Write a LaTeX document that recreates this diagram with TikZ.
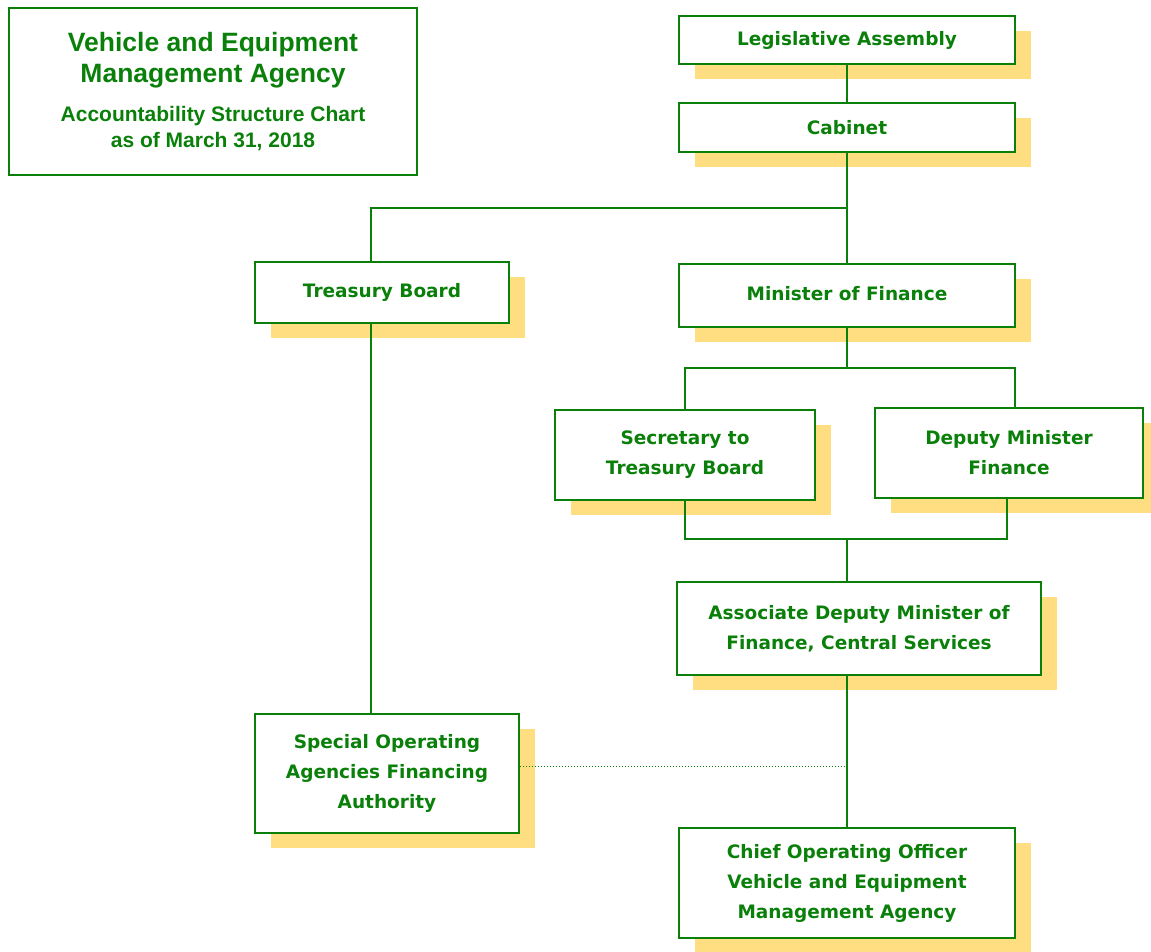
\documentclass[tikz,border=0pt]{standalone}
\usepackage{fontspec}
\setmainfont{Liberation Sans}
\newfontfamily\boxfont{DejaVu Sans}
\usetikzlibrary{shadows}
\definecolor{ogreen}{RGB}{10,128,10}
\definecolor{shadowcol}{RGB}{255,222,130}
\tikzset{
  orgbox/.style={draw=ogreen, line width=2.4pt, fill=white, align=center,
    text=ogreen, font=\boxfont\fontsize{18.5}{30}\selectfont\bfseries, inner sep=0pt,
    drop shadow={shadow xshift=16pt, shadow yshift=-15pt, fill=shadowcol, opacity=1, draw=none}},
  titlebox/.style={draw=ogreen, line width=2pt, fill=white, align=center, text=ogreen, inner sep=0pt, font=\bfseries},
  conn/.style={draw=ogreen, line width=2.8pt},
  dotconn/.style={draw=ogreen, line width=1pt, dotted}
}
\begin{document}
\begin{tikzpicture}[x=1pt,y=-1pt]
\useasboundingbox (0,0) rectangle (1151,951);
\node[titlebox, minimum width=408pt, minimum height=167pt] (title) at (213,91.5)
  {\fontsize{26.5}{31}\selectfont Vehicle and Equipment\\[6pt]
   \fontsize{26.5}{31}\selectfont Management Agency\\[17pt]
   \fontsize{21}{25}\selectfont Accountability Structure Chart\\[5pt]
   \fontsize{21}{25}\selectfont as of March 31, 2018};
\node[orgbox, minimum width=336pt, minimum height=48pt] (leg) at (847,40) {\raisebox{-4pt}{Legislative Assembly}};
\node[orgbox, minimum width=336pt, minimum height=49pt] (cab) at (847,127.5) {Cabinet};
\node[orgbox, minimum width=254pt, minimum height=61pt] (tb) at (382,292.5) {Treasury Board};
\node[orgbox, minimum width=336pt, minimum height=63pt] (min) at (847,295.5) {\raisebox{4pt}{Minister of Finance}};
\node[orgbox, minimum width=260pt, minimum height=90pt] (sec) at (685,455) {Secretary to\\Treasury Board};
\node[orgbox, minimum width=268pt, minimum height=90pt] (dep) at (1009,453) {Deputy Minister\\Finance};
\node[orgbox, minimum width=364pt, minimum height=93pt] (adm) at (859,628.5) {Associate Deputy Minister of\\Finance, Central Services};
\node[orgbox, minimum width=264pt, minimum height=119pt] (soa) at (387,773.5) {Special Operating\\Agencies Financing\\Authority};
\node[orgbox, minimum width=336pt, minimum height=110pt] (coo) at (847,883) {Chief Operating Officer\\Vehicle and Equipment\\Management Agency};
\coordinate (j1) at (847,208);
\coordinate (j2) at (847,368);
\coordinate (j3) at (847,539);
\draw[conn] (leg.south) -- (cab.north);
\draw[conn] (cab.south) -- (min.north);
\draw[conn] (j1) -| ([xshift=-11pt]tb.north);
\draw[conn] (min.south) -- (j2);
\draw[conn] (sec.north) |- (j2) -| ([xshift=6pt]dep.north);
\draw[conn] (sec.south) |- (j3) -| ([xshift=-2pt]dep.south);
\draw[conn] (j3) -- (j3 |- adm.north);
\draw[conn] (adm.south -| j3) -- (coo.north);
\draw[conn] ([xshift=-11pt]tb.south) -- ([xshift=-11pt]tb.south |- soa.north);
\draw[dotconn] ([yshift=7pt]soa.east) -- ([yshift=7pt]soa.east -| coo.north);
\end{tikzpicture}
\end{document}
